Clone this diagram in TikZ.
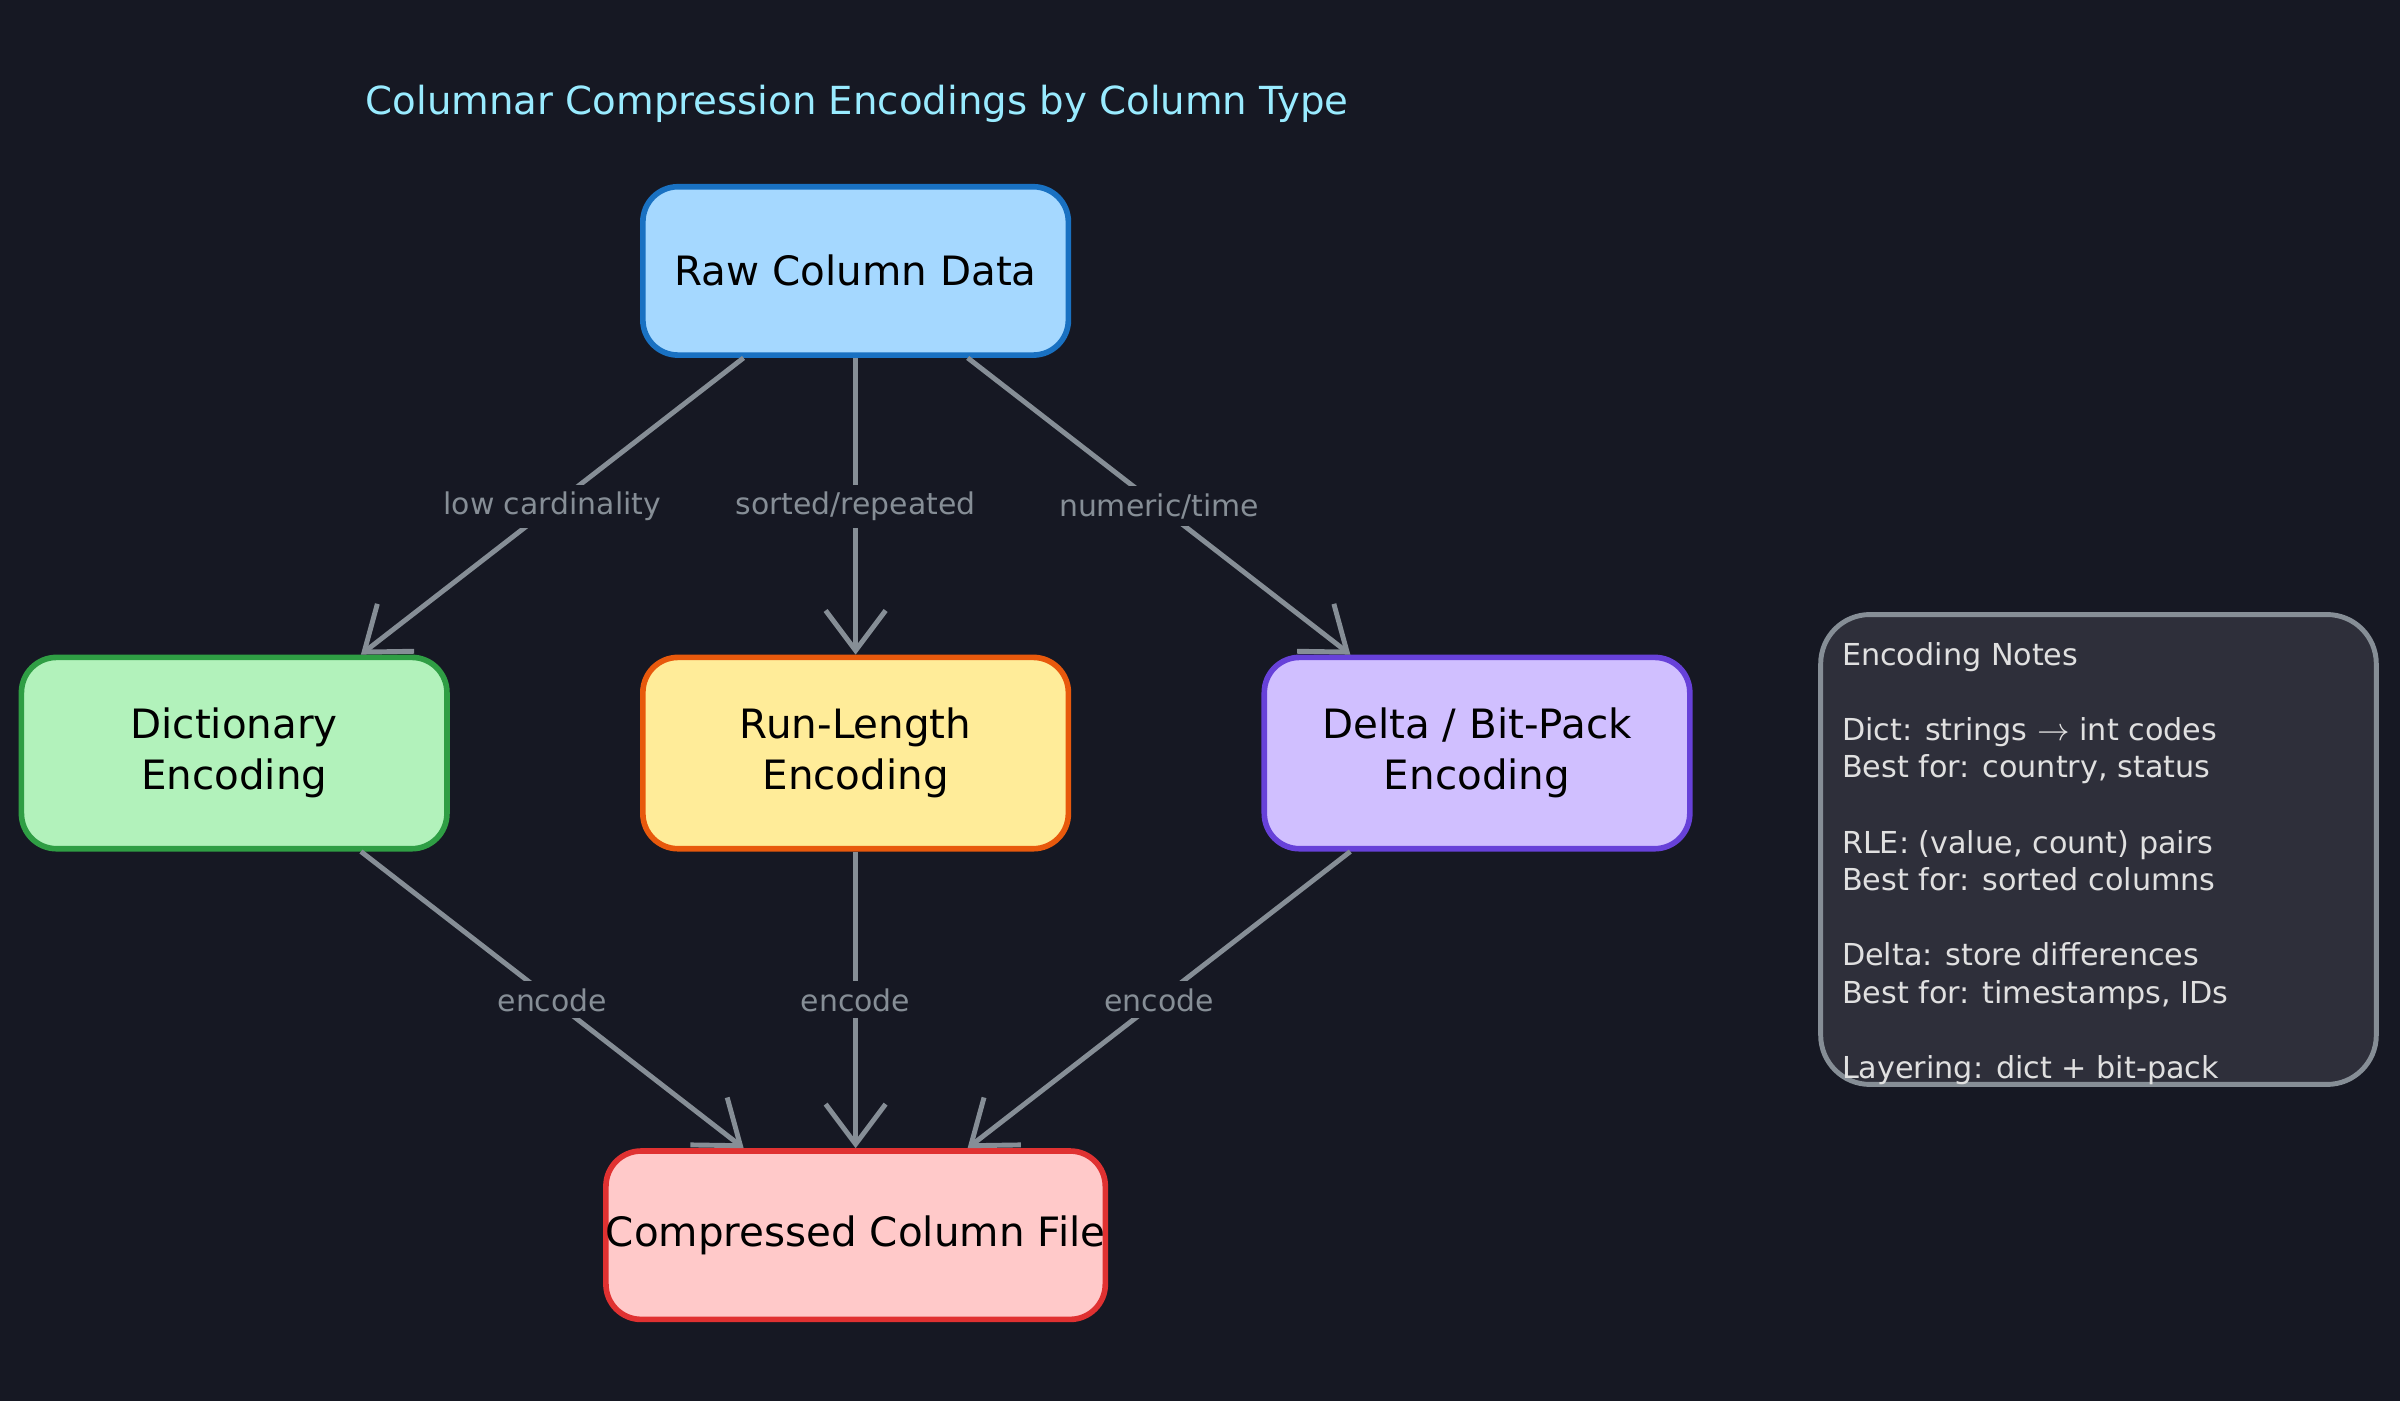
\documentclass[tikz,border=0pt]{standalone}
\usepackage{fontspec}
\setmainfont{DejaVu Sans}
\usetikzlibrary{arrows.meta}
\definecolor{bgc}{HTML}{161823}
\definecolor{edgec}{HTML}{868E96}
\tikzset{
  box/.style={draw, line width=1.6pt, rounded corners=10pt, minimum width=278*0.015306cm,
    align=center, text=black, font=\fontsize{11.5}{14.5}\selectfont},
  arr/.style={draw=edgec, line width=1.4pt, -{Straight Barb[length=4mm,width=6mm]}},
  lbl/.style={fill=bgc, text=edgec, inner sep=2pt, font=\fontsize{8.5}{10}\selectfont}
}
\begin{document}
\begin{tikzpicture}[x=0.015306cm, y=-0.015306cm]
\fill[bgc] (0,0) rectangle (1568,915);
\useasboundingbox (0,0) rectangle (1568,915);
\node[text=blue!20!cyan!40!white, font=\fontsize{11}{13}\selectfont] (title) at (560,68) {Columnar Compression Encodings by Column Type};
% nodes
\node[box, fill={rgb,255:red,165;green,216;blue,255}, draw={rgb,255:red,25;green,113;blue,194}, minimum height=110*0.015306cm] (raw) at (559,177) {Raw Column Data};
\node[box, fill={rgb,255:red,178;green,242;blue,187}, draw={rgb,255:red,47;green,158;blue,68}, minimum height=125*0.015306cm] (dict) at (153,492) {Dictionary\\Encoding};
\node[box, fill={rgb,255:red,255;green,236;blue,153}, draw={rgb,255:red,232;green,89;blue,12}, minimum height=125*0.015306cm] (rle) at (559,492) {Run-Length\\Encoding};
\node[box, fill={rgb,255:red,208;green,191;blue,255}, draw={rgb,255:red,103;green,65;blue,217}, minimum height=125*0.015306cm] (delta) at (965,492) {Delta / Bit-Pack\\Encoding};
\node[box, fill={rgb,255:red,255;green,201;blue,201}, draw={rgb,255:red,224;green,49;blue,49}, minimum height=110*0.015306cm, inner xsep=0pt] (out) at (559,807) {Compressed Column File};
% notes
\node[draw=edgec, line width=1.4pt, fill={rgb,255:red,46;green,47;blue,58}, rounded corners=14pt,
  minimum width=363*0.015306cm, minimum height=307*0.015306cm] (notes) at (1371,555) {};
\node[anchor=north west, align=left, text=white!88!black, inner sep=0pt,
  font=\fontsize{8.6}{10.7}\selectfont] (notestext) at (1203,419) {Encoding Notes\\[10.7pt]
Dict: strings $\rightarrow$ int codes\\Best for: country, status\\[10.7pt]
RLE: (value, count) pairs\\Best for: sorted columns\\[10.7pt]
Delta: store differences\\Best for: timestamps, IDs\\[10.7pt]
Layering: dict + bit-pack};
% edges
\draw[arr] (raw) -- node[lbl, pos=0.5] {low cardinality} (dict);
\draw[arr] (raw) -- node[lbl] {sorted/repeated} (rle);
\draw[arr] (raw) -- node[lbl] {numeric/time} (delta);
\draw[arr] (dict) -- node[lbl] {encode} (out);
\draw[arr] (rle) -- node[lbl] {encode} (out);
\draw[arr] (delta) -- node[lbl] {encode} (out);
\end{tikzpicture}
\end{document}
